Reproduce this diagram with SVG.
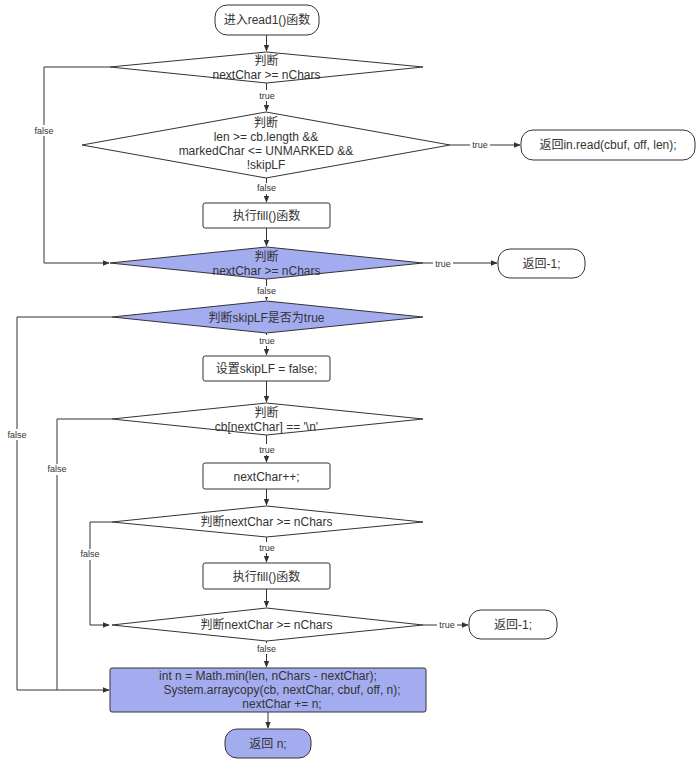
<svg xmlns="http://www.w3.org/2000/svg" width="699" height="763" viewBox="0 0 699 763">
<defs>
<marker id="ah" viewBox="0 0 10 10" refX="9" refY="5" markerWidth="7" markerHeight="7" orient="auto" markerUnits="userSpaceOnUse">
<path d="M0,1 L10,5 L0,9 z" fill="#333"/>
</marker>
<style>
.n{fill:#fff;stroke:#333;stroke-width:1}
.b{fill:#a4acf0;stroke:#333;stroke-width:1}
.t{font-family:"Liberation Sans","Noto Sans CJK SC",sans-serif;font-size:12px;fill:#333;text-anchor:middle;dominant-baseline:central}
.l{font-family:"Liberation Sans","Noto Sans CJK SC",sans-serif;font-size:9px;fill:#333;text-anchor:middle;dominant-baseline:central}
.lb{fill:#fff}
.c{fill:none;stroke:#333;stroke-width:1}
</style>
</defs>
<rect width="699" height="763" fill="#fff"/>
<g id="connectors">
<path class="c" d="M266.5,35 V51" marker-end="url(#ah)"/>
<path class="c" d="M266.5,83 V111" marker-end="url(#ah)"/>
<path class="c" d="M450,145 H520" marker-end="url(#ah)"/>
<path class="c" d="M266.5,178 V202" marker-end="url(#ah)"/>
<path class="c" d="M110,67 H44 V263 H109" marker-end="url(#ah)"/>
<path class="c" d="M266.5,228 V246" marker-end="url(#ah)"/>
<path class="c" d="M423,263 H497" marker-end="url(#ah)"/>
<path class="c" d="M266.5,279 V300" marker-end="url(#ah)"/>
<path class="c" d="M266.5,333 V355" marker-end="url(#ah)"/>
<path class="c" d="M112,317 H17 V690 H109" marker-end="url(#ah)"/>
<path class="c" d="M266.5,381 V402" marker-end="url(#ah)"/>
<path class="c" d="M112,419 H57 V690"/>
<path class="c" d="M266.5,435 V462" marker-end="url(#ah)"/>
<path class="c" d="M266.5,489 V505" marker-end="url(#ah)"/>
<path class="c" d="M266.5,537 V562" marker-end="url(#ah)"/>
<path class="c" d="M112,522 H90 V625 H109" marker-end="url(#ah)"/>
<path class="c" d="M266.5,589 V607" marker-end="url(#ah)"/>
<path class="c" d="M423,625 H468" marker-end="url(#ah)"/>
<path class="c" d="M266.5,641 V667" marker-end="url(#ah)"/>
<path class="c" d="M268,712 V728" marker-end="url(#ah)"/>
<g id="edge-labels">
<rect class="lb" x="257" y="90" width="20" height="11"/><text class="l" x="267" y="96">true</text>
<rect class="lb" x="470" y="139" width="20" height="11"/><text class="l" x="480" y="145">true</text>
<rect class="lb" x="255" y="183" width="23" height="11"/><text class="l" x="266.5" y="188">false</text>
<rect class="lb" x="33" y="125" width="23" height="11"/><text class="l" x="44" y="131">false</text>
<rect class="lb" x="433" y="258" width="20" height="11"/><text class="l" x="443" y="264">true</text>
<rect class="lb" x="255" y="286" width="23" height="11"/><text class="l" x="266.5" y="291">false</text>
<rect class="lb" x="257" y="335" width="20" height="11"/><text class="l" x="267" y="341">true</text>
<rect class="lb" x="6" y="429" width="23" height="11"/><text class="l" x="17" y="435">false</text>
<rect class="lb" x="46" y="464" width="23" height="11"/><text class="l" x="57" y="469">false</text>
<rect class="lb" x="257" y="444" width="20" height="11"/><text class="l" x="267" y="450">true</text>
<rect class="lb" x="257" y="542" width="20" height="11"/><text class="l" x="267" y="548">true</text>
<rect class="lb" x="79" y="549" width="23" height="11"/><text class="l" x="90" y="554">false</text>
<rect class="lb" x="437" y="619" width="20" height="11"/><text class="l" x="447" y="625">true</text>
<rect class="lb" x="255" y="643" width="23" height="11"/><text class="l" x="266.5" y="649">false</text>
</g>
</g>
<g id="start"><rect class="n" x="215" y="5" width="104" height="30" rx="12"/><text class="t" x="267" y="20">进入read1()函数</text></g>
<g id="d1"><polygon class="n" points="266.5,52 423,67 266.5,83 110,67"/><text class="t" x="266.5" y="61">判断</text><text class="t" x="266.5" y="75">nextChar &gt;= nChars</text></g>
<g id="d2"><polygon class="n" points="266,112 450,145 266,178 82,145"/><text class="t" x="266" y="123">判断</text><text class="t" x="266" y="137">len &gt;= cb.length &amp;&amp;</text><text class="t" x="266" y="151">markedChar &lt;= UNMARKED &amp;&amp;</text><text class="t" x="266" y="165">!skipLF</text></g>
<g id="ret1"><rect class="n" x="521" y="130" width="174" height="30" rx="12"/><text class="t" x="608" y="145">返回in.read(cbuf, off, len);</text></g>
<g id="fill1"><rect class="n" x="203" y="203" width="127" height="25" rx="2"/><text class="t" x="266.5" y="216">执行fill()函数</text></g>
<g id="d3"><polygon class="b" points="266.5,247 423,263 266.5,279 110,263"/><text class="t" x="266.5" y="257">判断</text><text class="t" x="266.5" y="271">nextChar &gt;= nChars</text></g>
<g id="ret2"><rect class="n" x="498" y="249" width="87" height="29" rx="12"/><text class="t" x="541.5" y="264">返回-1;</text></g>
<g id="d4"><polygon class="b" points="266.5,301 423,317 266.5,333 112,317"/><text class="t" x="266.5" y="318">判断skipLF是否为true</text></g>
<g id="set"><rect class="n" x="203" y="356" width="127" height="25" rx="2"/><text class="t" x="266.5" y="369">设置skipLF = false;</text></g>
<g id="d5"><polygon class="n" points="266.5,403 423,419 266.5,435 112,419"/><text class="t" x="266.5" y="413">判断</text><text class="t" x="266.5" y="427">cb[nextChar] == '\n'</text></g>
<g id="inc"><rect class="n" x="203" y="463" width="127" height="26" rx="2"/><text class="t" x="266.5" y="477">nextChar++;</text></g>
<g id="d6"><polygon class="n" points="266.5,506 423,522 266.5,537 112,522"/><text class="t" x="266.5" y="522">判断nextChar &gt;= nChars</text></g>
<g id="fill2"><rect class="n" x="203" y="563" width="127" height="26" rx="2"/><text class="t" x="266.5" y="577">执行fill()函数</text></g>
<g id="d7"><polygon class="n" points="266.5,608 423,625 266.5,641 112,625"/><text class="t" x="266.5" y="625">判断nextChar &gt;= nChars</text></g>
<g id="ret3"><rect class="n" x="469" y="610" width="88" height="29" rx="12"/><text class="t" x="513" y="625">返回-1;</text></g>
<g id="copy"><rect class="b" x="110" y="668" width="316" height="44" rx="2"/><text class="t" x="268" y="676">int n = Math.min(len, nChars - nextChar);</text><text class="t" x="282" y="690">System.arraycopy(cb, nextChar, cbuf, off, n);</text><text class="t" x="282" y="704">nextChar += n;</text></g>
<g id="end"><rect class="b" x="225" y="729" width="86" height="29" rx="12"/><text class="t" x="268" y="744">返回 n;</text></g>
</svg>
